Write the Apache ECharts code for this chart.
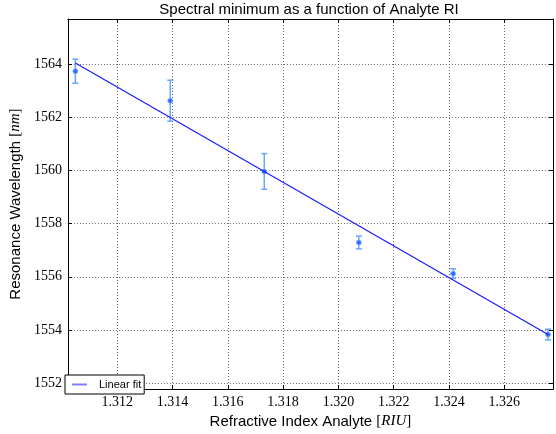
<!DOCTYPE html>
<html>
<head>
<meta charset="utf-8">
<script src="https://cdn.jsdelivr.net/npm/echarts@6/dist/echarts.min.js"></script>
<style>
  html, body { margin: 0; padding: 0; background: #fff; }
  #chart { width: 556px; height: 434px; }
</style>
</head>
<body>
<div id="chart"></div>
<script>
// measured points (refractive index vs. resonance wavelength)
var ri = [1.31049, 1.31392, 1.31732, 1.32074, 1.32415, 1.32758];
var wavelength = [1563.73, 1562.62, 1559.96, 1557.29, 1556.12, 1553.83];
var wlError = [0.45, 0.77, 0.67, 0.24, 0.18, 0.20];
// linear fit end points
var fitRi = [1.31049, 1.32758];
var fitWl = [1564.04, 1553.83];

var serifFont = '"Liberation Serif", "DejaVu Serif", serif';
var sansFont = '"Liberation Sans", "DejaVu Sans", sans-serif';

var points = ri.map(function (x, i) { return [x, wavelength[i]]; });
var bars = ri.map(function (x, i) { return [x, wavelength[i] - wlError[i], wavelength[i] + wlError[i]]; });
var fit = fitRi.map(function (x, i) { return [x, fitWl[i]]; });

var gridLine = { show: true, lineStyle: { color: '#6a6a6a', width: 1, type: [1, 2] } };
var frame = { show: true, onZero: false, lineStyle: { color: '#000', width: 1 } };
var tick = { show: true, inside: true, length: 4, lineStyle: { color: '#000' } };

function xLabel(v) {
  var k = v / 0.002;
  return Math.abs(k - Math.round(k)) < 1e-6 ? v.toFixed(3) : '';
}
function yLabel(v) {
  return Math.abs(v / 2 - Math.round(v / 2)) < 1e-6 ? String(Math.round(v)) : '';
}

var nameRich = {
  a: { fontFamily: sansFont, fontSize: 15, color: '#000' },
  m: { fontFamily: serifFont, fontSize: 15, color: '#000' },
  i: { fontFamily: serifFont, fontSize: 15, fontStyle: 'italic', color: '#000' }
};

var chart = echarts.init(document.getElementById('chart'));
var option = {
  animation: false,
  backgroundColor: '#fff',
  grid: { left: 62, right: 3, top: 19, bottom: 36 },
  graphic: [{
    type: 'text',
    x: 309, y: 10,
    style: {
      text: 'Spectral minimum as a function of Analyte RI',
      align: 'center', verticalAlign: 'middle',
      textAlign: 'center', textVerticalAlign: 'middle',
      font: '15px ' + sansFont, fill: '#000'
    }
  }],
  legend: {
    left: 65, bottom: 40,
    orient: 'vertical',
    padding: [4, 3, 4, 7],
    borderColor: '#000', borderWidth: 1, borderRadius: 0,
    backgroundColor: '#fff',
    itemWidth: 15, itemHeight: 2,
    itemStyle: { color: '#7f7fff' },
    textStyle: { fontFamily: sansFont, fontSize: 11, color: '#000', padding: [0, 0, 0, 7] },
    data: [{ name: 'Linear fit', icon: 'rect' }]
  },
  xAxis: [{
    type: 'value',
    min: 1.31022, max: 1.32776,
    minInterval: 0.002, maxInterval: 0.002,
    axisLine: frame, axisTick: tick, splitLine: gridLine,
    axisLabel: { formatter: xLabel, margin: 6, fontFamily: serifFont, fontSize: 14, color: '#000', showMinLabel: true, showMaxLabel: true },
    name: '{a|Refractive Index Analyte }{m|[}{i|RIU}{m|]}',
    nameLocation: 'middle', nameGap: 17,
    nameTextStyle: { rich: nameRich }
  }, {
    type: 'value', position: 'top',
    min: 1.31022, max: 1.32776,
    minInterval: 0.002, maxInterval: 0.002,
    axisLine: frame, axisTick: tick,
    axisLabel: { show: false }, splitLine: { show: false }
  }],
  yAxis: [{
    type: 'value',
    min: 1551.78, max: 1565.69,
    minInterval: 2, maxInterval: 2,
    axisLine: frame, axisTick: tick, splitLine: gridLine,
    axisLabel: { formatter: yLabel, margin: 6, fontFamily: serifFont, fontSize: 14, color: '#000', showMinLabel: true, showMaxLabel: true },
    name: '{a|Resonance Wavelength }{m|[}{i|nm}{m|]}',
    nameLocation: 'middle', nameRotate: 90, nameGap: 26,
    nameTextStyle: { rich: nameRich }
  }, {
    type: 'value', position: 'right',
    min: 1551.78, max: 1565.69,
    minInterval: 2, maxInterval: 2,
    axisLine: frame, axisTick: tick,
    axisLabel: { show: false }, splitLine: { show: false }
  }],
  series: [
    {
      name: 'errors',
      type: 'custom',
      data: bars,
      z: 3,
      renderItem: function (params, api) {
        var top = api.coord([api.value(0), api.value(2)]);
        var bot = api.coord([api.value(0), api.value(1)]);
        var style = { stroke: '#6aa6ff', lineWidth: 1.5 };
        return {
          type: 'group',
          children: [
            { type: 'line', shape: { x1: top[0], y1: top[1], x2: bot[0], y2: bot[1] }, style: style },
            { type: 'line', shape: { x1: top[0] - 3, y1: top[1], x2: top[0] + 3, y2: top[1] }, style: style },
            { type: 'line', shape: { x1: bot[0] - 3, y1: bot[1], x2: bot[0] + 3, y2: bot[1] }, style: style }
          ]
        };
      }
    },
    {
      name: 'data',
      type: 'scatter',
      data: points,
      z: 4,
      symbol: 'circle', symbolSize: 5,
      itemStyle: { color: '#1250ff', borderColor: '#80b4ff', borderWidth: 1 }
    },
    {
      name: 'Linear fit',
      type: 'line',
      data: fit,
      z: 5,
      symbol: 'none',
      lineStyle: { color: '#1a1aff', width: 1.2 }
    }
  ]
};
chart.setOption(option);
</script>
</body>
</html>
